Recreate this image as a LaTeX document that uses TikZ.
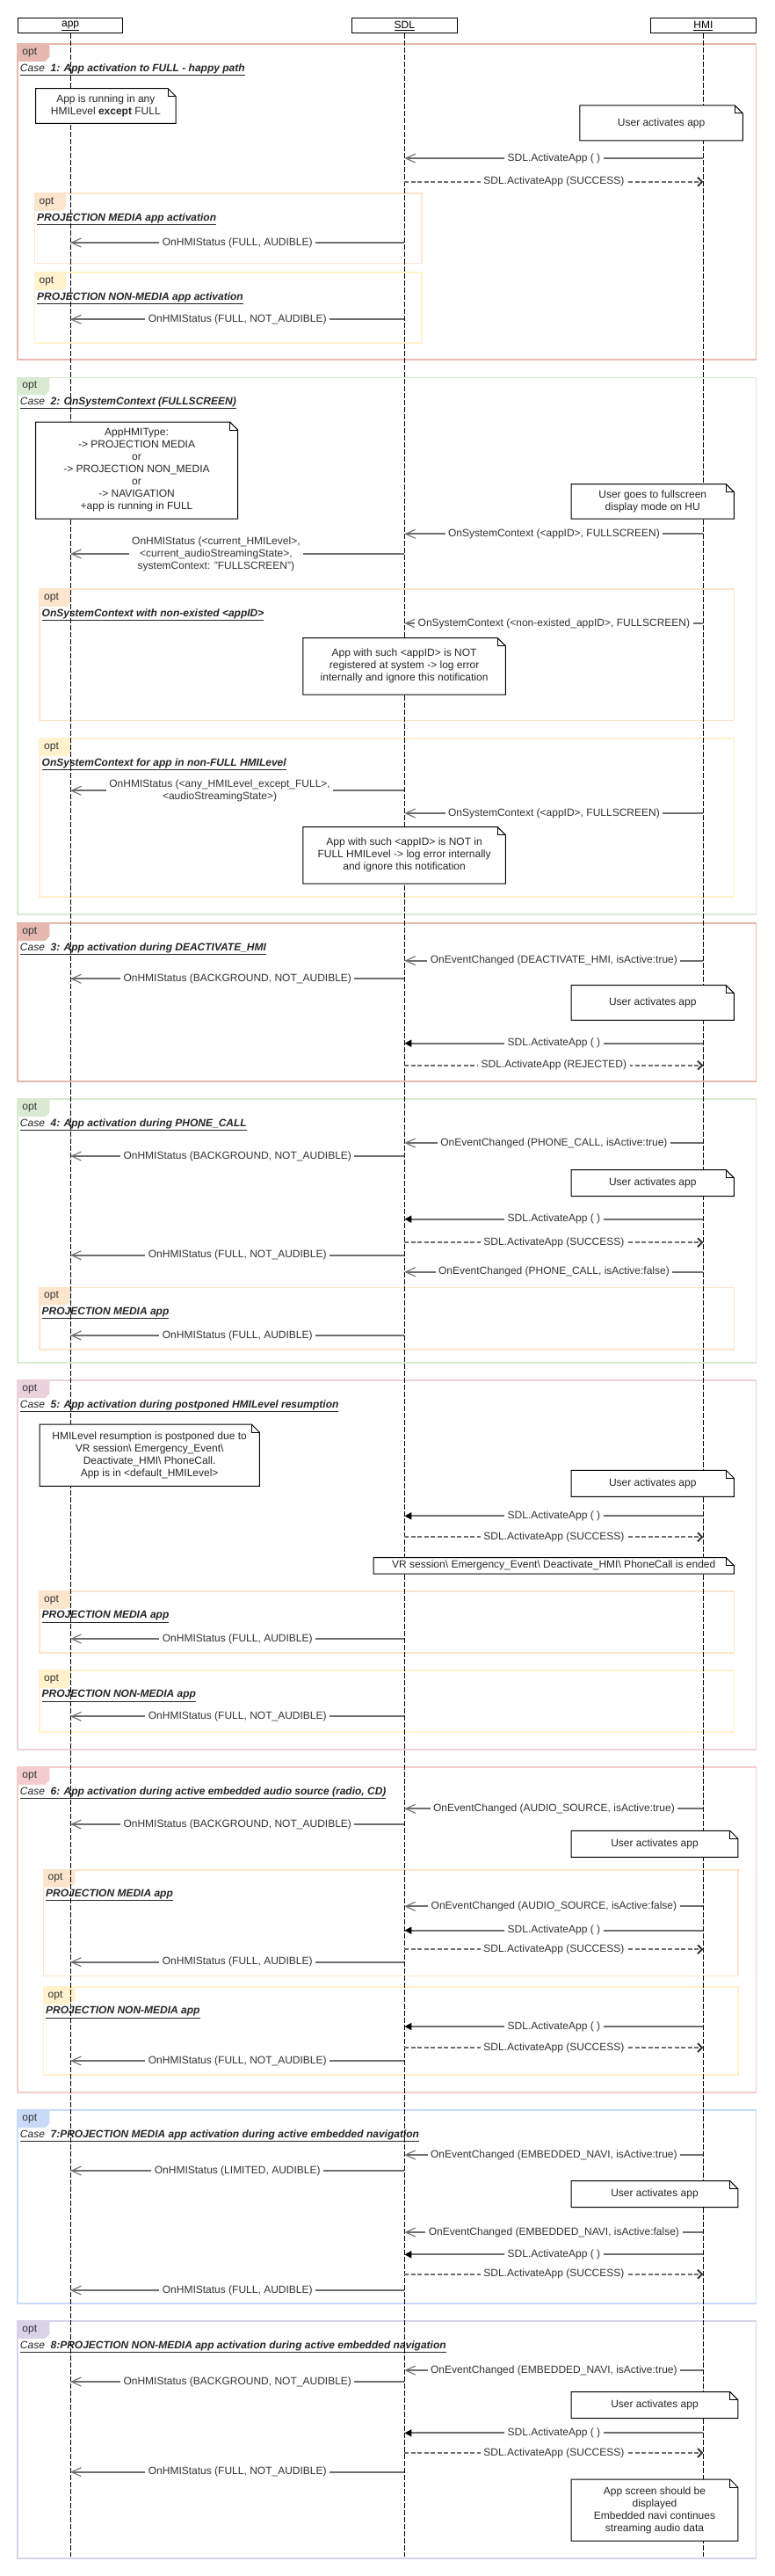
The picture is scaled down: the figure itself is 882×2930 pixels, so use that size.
\documentclass[tikz,border=0pt]{standalone}
\usepackage{fontspec}
\setmainfont{Liberation Sans}
\usetikzlibrary{arrows.meta}
\definecolor{cSal}{HTML}{E6B8AF}
\definecolor{cPeach}{HTML}{FCE5CD}
\definecolor{cYel}{HTML}{FFF2CC}
\definecolor{cGreen}{HTML}{D9EAD3}
\definecolor{cPink}{HTML}{EAD1DC}
\definecolor{cRose}{HTML}{F4CCCC}
\definecolor{cBlue}{HTML}{C9DAF8}
\definecolor{cLav}{HTML}{D9D2E9}
\definecolor{lineg}{HTML}{6E6E6E}
\definecolor{txtg}{HTML}{333333}

\newcommand\CaseT[1]{\underline{\textit{Case~~}\textbf{\textit{#1}}}}
\newcommand\SubT[1]{\underline{\textbf{\textit{#1}}}}

\newcommand\Frame[7]{%
  \draw[framebox, draw=#6] (#2,#3) rectangle (#4,#5);
  \fill[#6] (#2,#3) -- ({#2+36},#3) -- ({#2+36},{#3+15}) -- ({#2+31},{#3+20}) -- (#2,{#3+20}) -- cycle;
  \node[opttext] (#1o) at ({#2+5},{#3+9.5}) {opt};
  \node[titletext] (#1t) at ({#2+2.5},{#3+29}) {#7};
}
\newcommand\Note[6]{%
  \draw[notebox] (#2,#3) -- ({#4-9},#3) -- (#4,{#3+9}) -- (#4,#5) -- (#2,#5) -- cycle;
  \draw[notefold] ({#4-9},#3) -- ({#4-9},{#3+9}) -- (#4,{#3+9});
  \node[notetext] (#1) at ({(#2+#4)/2},{(#3+#5)/2}) {#6};
}
\newcommand\Msg[7]{%
  \coordinate (#1a) at (#3,#5);
  \coordinate (#1b) at (#4,#5);
  \draw[#2] (#1a) -- node[lbl,#7] (#1l) {#6} (#1b);
}
\def\XA{80.1}
\def\XS{460.4}
\def\XH{800.4}

\tikzset{
  every node/.style={font=\fontsize{12}{14}\selectfont},
  hdr/.style={draw=black, line width=1pt, minimum width=119.75pt, minimum height=17pt, inner sep=0pt, fill=white},
  lifeline/.style={black, line width=0.9pt, dash pattern=on 6pt off 2pt},
  framebox/.style={line width=1.6pt},
  opttext/.style={anchor=west, inner sep=0pt, text=txtg},
  titletext/.style={anchor=west, inner sep=0pt, text=black!85},
  notebox/.style={draw=black, line width=1pt, fill=white},
  notefold/.style={draw=black, line width=1pt},
  notetext/.style={align=center, inner sep=0pt, text=black!85},
  lbl/.style={fill=white, inner xsep=3.5pt, inner ysep=0.5pt, text=txtg, align=center},
  async/.style={draw=lineg, line width=1.8pt, -{Straight Barb[length=11pt,width=10pt,line width=1.1pt]}},
  sync/.style={draw=lineg, line width=1.8pt, -{Triangle[length=8pt,width=8pt,color=black]}},
  reply/.style={draw=lineg, line width=1.8pt, dash pattern=on 5pt off 2.5pt, -{Straight Barb[length=5pt,width=10pt,line width=2pt,color=txtg]}},
}

\begin{document}
\begin{tikzpicture}[x=1pt,y=-1pt]
\useasboundingbox[fill=white] (0,0) rectangle (882,2930);

% ---------- frames ----------
\Frame{fA}{20.25}{50}{860.6}{409}{cSal}{\CaseT{1: App activation to FULL - happy path}}
\Frame{fAa}{39.4}{220}{479.8}{299.3}{cPeach}{\SubT{PROJECTION MEDIA app activation}}
\Frame{fAb}{39.4}{310}{479.8}{390}{cYel}{\SubT{PROJECTION NON-MEDIA app activation}}

\Frame{fB}{20.25}{429.3}{860.6}{1040}{cGreen}{\CaseT{2: OnSystemContext (FULLSCREEN)}}
\Frame{fBa}{45}{670}{835.3}{819.3}{cPeach}{\SubT{OnSystemContext with non-existed <appID>}}
\Frame{fBb}{45}{840}{835.3}{1020}{cYel}{\SubT{OnSystemContext for app in non-FULL HMILevel}}

\Frame{fC}{20.25}{1050}{860.6}{1229.7}{cSal}{\CaseT{3: App activation during DEACTIVATE\_HMI}}

\Frame{fD}{20.25}{1250}{860.6}{1550}{cGreen}{\CaseT{4: App activation during PHONE\_CALL}}
\Frame{fDa}{45}{1464.3}{835.3}{1535}{cPeach}{\SubT{PROJECTION MEDIA app}}

\Frame{fE}{20.25}{1570}{860.6}{1990}{cPink}{\CaseT{5: App activation during postponed HMILevel resumption}}
\Frame{fEa}{45}{1810}{835.3}{1880}{cPeach}{\SubT{PROJECTION MEDIA app}}
\Frame{fEb}{45}{1900}{835.3}{1970}{cYel}{\SubT{PROJECTION NON-MEDIA app}}

\Frame{fF}{20.25}{2010}{860.6}{2380}{cRose}{\CaseT{6: App activation during active embedded audio source (radio, CD)}}
\Frame{fFa}{49.5}{2126.7}{839.8}{2247.3}{cPeach}{\SubT{PROJECTION MEDIA app}}
\Frame{fFb}{49.5}{2260}{839.8}{2360}{cYel}{\SubT{PROJECTION NON-MEDIA app}}

\Frame{fG}{20.25}{2400}{860.6}{2620}{cBlue}{\CaseT{7:PROJECTION MEDIA app activation during active embedded navigation}}
\Frame{fH}{20.25}{2640}{860.6}{2910}{cLav}{\CaseT{8:PROJECTION NON-MEDIA app activation during active embedded navigation}}

% ---------- lifelines ----------
\node[hdr] (app) at (80.1,29.5) {\underline{app}};
\node[hdr] (sdl) at (460.4,29.5) {\underline{SDL}};
\node[hdr] (hmi) at (800.4,29.5) {\underline{HMI}};
\coordinate (appE) at (\XA,2908);
\coordinate (sdlE) at (\XS,2908);
\coordinate (hmiE) at (\XH,2908);
\draw[lifeline] (app.south) -- (appE);
\draw[lifeline] (sdl.south) -- (sdlE);
\draw[lifeline] (hmi.south) -- (hmiE);

% ---------- notes ----------
\Note{n1}{40.5}{100.7}{200.2}{140.3}{App is running in any\\HMILevel \textbf{except} FULL}
\Note{n2}{659.8}{120}{845.4}{160}{User activates app}
\Note{n3}{40.5}{480}{270.6}{590}{AppHMIType:\\-> PROJECTION MEDIA\\or\\-> PROJECTION NON\_MEDIA\\or\\-> NAVIGATION\\+app is running in FULL}
\Note{n4}{650.2}{550.7}{835.3}{590}{User goes to fullscreen\\display mode on HU}
\Note{n5}{344.8}{725.7}{575.4}{790}{App with such <appID> is NOT\\registered at system -> log error\\internally and ignore this notification}
\Note{n6}{344.8}{940.7}{575.4}{1005}{App with such <appID> is NOT in\\FULL HMILevel -> log error internally\\and ignore this notification}
\Note{n7}{650.2}{1120.7}{835.3}{1160.3}{User activates app}
\Note{n8}{650.2}{1330.7}{835.3}{1360.7}{User activates app}
\Note{n9}{45}{1620}{295.3}{1690.3}{HMILevel resumption is postponed due to\\VR session\textbackslash{} Emergency\_Event\textbackslash\\Deactivate\_HMI\textbackslash{} PhoneCall.\\App is in <default\_HMILevel>}
\Note{n10}{650.2}{1672.3}{835.3}{1702.3}{User activates app}
\Note{n11}{425.2}{1771.7}{835.3}{1790}{VR session\textbackslash{} Emergency\_Event\textbackslash{} Deactivate\_HMI\textbackslash{} PhoneCall is ended}
\Note{n12}{650.2}{2082.3}{839.8}{2112.3}{User activates app}
\Note{n13}{650.2}{2480.7}{839.8}{2510.7}{User activates app}
\Note{n14}{650.2}{2720.7}{839.8}{2750.7}{User activates app}
\Note{n15}{650.2}{2820}{839.8}{2890}{App screen should be\\displayed\\Embedded navi continues\\streaming audio data}

% ---------- messages ----------
% Case 1
\Msg{m1}{async}{\XH}{\XS}{180}{SDL.ActivateApp ( )}{}
\Msg{m2}{reply}{\XS}{\XH}{206.7}{SDL.ActivateApp (SUCCESS)}{}
\Msg{m3}{async}{\XS}{\XA}{276}{OnHMIStatus (FULL, AUDIBLE)}{}
\Msg{m4}{async}{\XS}{\XA}{363.3}{OnHMIStatus (FULL, NOT\_AUDIBLE)}{}
% Case 2
\Msg{m5}{async}{\XH}{\XS}{607.3}{OnSystemContext (<appID>, FULLSCREEN)}{}
\Msg{m6}{async}{\XS}{\XA}{630}{OnHMIStatus (<current\_HMILevel>,\\<current\_audioStreamingState>,\\systemContext: "FULLSCREEN")}{pos=0.564}
\Msg{m7}{async}{\XH}{\XS}{709}{OnSystemContext (<non-existed\_appID>, FULLSCREEN)}{}
\Msg{m8}{async}{\XS}{\XA}{899.3}{OnHMIStatus (<any\_HMILevel\_except\_FULL>,\\<audioStreamingState>)}{pos=0.553}
\Msg{m9}{async}{\XH}{\XS}{925}{OnSystemContext (<appID>, FULLSCREEN)}{}
% Case 3
\Msg{m10}{async}{\XH}{\XS}{1092.7}{OnEventChanged (DEACTIVATE\_HMI, isActive:true)}{}
\Msg{m11}{async}{\XS}{\XA}{1113.3}{OnHMIStatus (BACKGROUND, NOT\_AUDIBLE)}{}
\Msg{m12}{sync}{\XH}{\XS}{1186.7}{SDL.ActivateApp ( )}{}
\Msg{m13}{reply}{\XS}{\XH}{1211.7}{SDL.ActivateApp (REJECTED)}{}
% Case 4
\Msg{m14}{async}{\XH}{\XS}{1300}{OnEventChanged (PHONE\_CALL, isActive:true)}{}
\Msg{m15}{async}{\XS}{\XA}{1315}{OnHMIStatus (BACKGROUND, NOT\_AUDIBLE)}{}
\Msg{m16}{sync}{\XH}{\XS}{1386.7}{SDL.ActivateApp ( )}{}
\Msg{m17}{reply}{\XS}{\XH}{1413.3}{SDL.ActivateApp (SUCCESS)}{}
\Msg{m18}{async}{\XS}{\XA}{1427.7}{OnHMIStatus (FULL, NOT\_AUDIBLE)}{}
\Msg{m19}{async}{\XH}{\XS}{1446.7}{OnEventChanged (PHONE\_CALL, isActive:false)}{}
\Msg{m20}{async}{\XS}{\XA}{1519}{OnHMIStatus (FULL, AUDIBLE)}{}
% Case 5
\Msg{m21}{sync}{\XH}{\XS}{1724.3}{SDL.ActivateApp ( )}{}
\Msg{m22}{reply}{\XS}{\XH}{1748.3}{SDL.ActivateApp (SUCCESS)}{}
\Msg{m23}{async}{\XS}{\XA}{1864}{OnHMIStatus (FULL, AUDIBLE)}{}
\Msg{m24}{async}{\XS}{\XA}{1952.3}{OnHMIStatus (FULL, NOT\_AUDIBLE)}{}
% Case 6
\Msg{m25}{async}{\XH}{\XS}{2057.3}{OnEventChanged (AUDIO\_SOURCE, isActive:true)}{}
\Msg{m26}{async}{\XS}{\XA}{2075}{OnHMIStatus (BACKGROUND, NOT\_AUDIBLE)}{}
\Msg{m27}{async}{\XH}{\XS}{2168.3}{OnEventChanged (AUDIO\_SOURCE, isActive:false)}{}
\Msg{m28}{sync}{\XH}{\XS}{2195.7}{SDL.ActivateApp ( )}{}
\Msg{m29}{reply}{\XS}{\XH}{2217.3}{SDL.ActivateApp (SUCCESS)}{}
\Msg{m30}{async}{\XS}{\XA}{2231.7}{OnHMIStatus (FULL, AUDIBLE)}{}
\Msg{m31}{sync}{\XH}{\XS}{2305}{SDL.ActivateApp ( )}{}
\Msg{m32}{reply}{\XS}{\XH}{2329}{SDL.ActivateApp (SUCCESS)}{}
\Msg{m33}{async}{\XS}{\XA}{2344}{OnHMIStatus (FULL, NOT\_AUDIBLE)}{}
% Case 7
\Msg{m34}{async}{\XH}{\XS}{2451}{OnEventChanged (EMBEDDED\_NAVI, isActive:true)}{}
\Msg{m35}{async}{\XS}{\XA}{2469}{OnHMIStatus (LIMITED, AUDIBLE)}{}
\Msg{m36}{async}{\XH}{\XS}{2539}{OnEventChanged (EMBEDDED\_NAVI, isActive:false)}{}
\Msg{m37}{sync}{\XH}{\XS}{2564.3}{SDL.ActivateApp ( )}{}
\Msg{m38}{reply}{\XS}{\XH}{2586.7}{SDL.ActivateApp (SUCCESS)}{}
\Msg{m39}{async}{\XS}{\XA}{2605}{OnHMIStatus (FULL, AUDIBLE)}{}
% Case 8
\Msg{m40}{async}{\XH}{\XS}{2696}{OnEventChanged (EMBEDDED\_NAVI, isActive:true)}{}
\Msg{m41}{async}{\XS}{\XA}{2709}{OnHMIStatus (BACKGROUND, NOT\_AUDIBLE)}{}
\Msg{m42}{sync}{\XH}{\XS}{2767.3}{SDL.ActivateApp ( )}{}
\Msg{m43}{reply}{\XS}{\XH}{2790}{SDL.ActivateApp (SUCCESS)}{}
\Msg{m44}{async}{\XS}{\XA}{2811.7}{OnHMIStatus (FULL, NOT\_AUDIBLE)}{}
\end{tikzpicture}
\end{document}
